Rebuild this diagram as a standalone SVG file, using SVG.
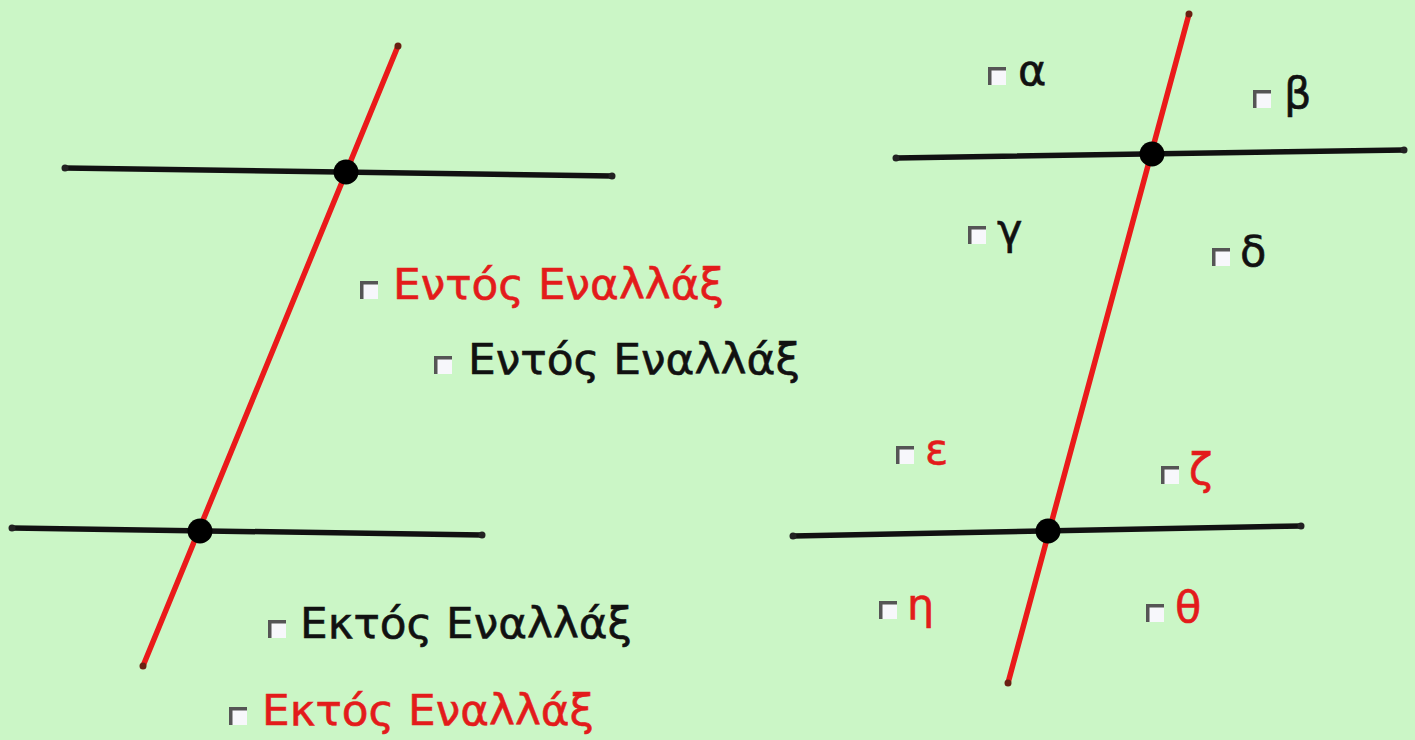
<svg xmlns="http://www.w3.org/2000/svg" width="1415" height="740" viewBox="0 0 1415 740">
<style>
.bg{fill:#cbf6c6}
.blk{stroke:#111;stroke-width:5.5;stroke-linecap:round}
.red{stroke:#ea1a1a;stroke-width:5.5;stroke-linecap:round}
.pt{fill:#000}
.ep{fill:#222}
.epr{fill:#6a2012}
.t{font-family:"DejaVu Sans","Noto Sans",sans-serif;font-size:43px;stroke-width:0.6px}
.tb{fill:#111;stroke:#111}
.tr{fill:#e31b1b;stroke:#e31b1b}
.cb{fill:#f7f7fb}
.cbl{fill:none;stroke:#555;stroke-width:3.5}
</style>
<defs>
<g id="chk">
<rect class="cb" x="0" y="0" width="18" height="18"/>
<path class="cbl" d="M1.75,18 V1.75 H18"/>
</g>
</defs>
<rect class="bg" x="0" y="0" width="1415" height="740"/>
<g id="connectors">
<line class="blk" x1="65" y1="168" x2="612" y2="176"/>
<line class="blk" x1="12" y1="528" x2="482" y2="535"/>
<line class="red" x1="398" y1="46" x2="143" y2="666"/>
<line class="blk" x1="896" y1="158" x2="1404" y2="150"/>
<line class="blk" x1="793" y1="536" x2="1301" y2="526"/>
<line class="red" x1="1189" y1="14" x2="1008" y2="683"/>
</g>
<g id="points">
<circle class="ep" cx="65" cy="168" r="3.5"/>
<circle class="ep" cx="612" cy="176" r="3.5"/>
<circle class="ep" cx="12" cy="528" r="3.5"/>
<circle class="ep" cx="482" cy="535" r="3.5"/>
<circle class="epr" cx="398" cy="46" r="3.5"/>
<circle class="epr" cx="143" cy="666" r="3.5"/>
<circle class="pt" cx="346" cy="172" r="12.5"/>
<circle class="pt" cx="200" cy="531" r="12.5"/>
<circle class="ep" cx="896" cy="158" r="3.5"/>
<circle class="ep" cx="1404" cy="150" r="3.5"/>
<circle class="ep" cx="793" cy="536" r="3.5"/>
<circle class="ep" cx="1301" cy="526" r="3.5"/>
<circle class="epr" cx="1189" cy="14" r="3.5"/>
<circle class="epr" cx="1008" cy="683" r="3.5"/>
<circle class="pt" cx="1152" cy="154" r="12.5"/>
<circle class="pt" cx="1048" cy="531" r="12.5"/>
</g>
<g id="label-entos-red">
<use href="#chk" x="360" y="281"/>
<text class="t tr" x="393" y="299" textLength="331" lengthAdjust="spacingAndGlyphs">Εντός Εναλλάξ</text>
</g>
<g id="label-entos-black">
<use href="#chk" x="434" y="356"/>
<text class="t tb" x="468" y="374" textLength="332" lengthAdjust="spacingAndGlyphs">Εντός Εναλλάξ</text>
</g>
<g id="label-ektos-black">
<use href="#chk" x="268" y="620"/>
<text class="t tb" x="300" y="638" textLength="332" lengthAdjust="spacingAndGlyphs">Εκτός Εναλλάξ</text>
</g>
<g id="label-ektos-red">
<use href="#chk" x="229" y="707"/>
<text class="t tr" x="262" y="725" textLength="332" lengthAdjust="spacingAndGlyphs">Εκτός Εναλλάξ</text>
</g>
<g id="label-alpha">
<use href="#chk" x="988" y="67"/>
<text class="t tb" x="1018" y="85">α</text>
</g>
<g id="label-beta">
<use href="#chk" x="1253" y="90"/>
<text class="t tb" x="1284" y="108">β</text>
</g>
<g id="label-gamma">
<use href="#chk" x="968" y="226"/>
<text class="t tb" x="997" y="244">γ</text>
</g>
<g id="label-delta">
<use href="#chk" x="1212" y="248"/>
<text class="t tb" x="1240" y="266">δ</text>
</g>
<g id="label-epsilon">
<use href="#chk" x="896" y="446"/>
<text class="t tr" x="925" y="464">ε</text>
</g>
<g id="label-zeta">
<use href="#chk" x="1161" y="466"/>
<text class="t tr" x="1189" y="484">ζ</text>
</g>
<g id="label-eta">
<use href="#chk" x="879" y="601"/>
<text class="t tr" x="907" y="619">η</text>
</g>
<g id="label-theta">
<use href="#chk" x="1146" y="604"/>
<text class="t tr" x="1175" y="622">θ</text>
</g>
</svg>
